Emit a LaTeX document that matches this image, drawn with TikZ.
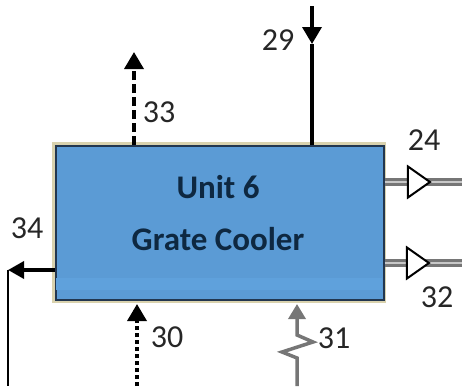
\documentclass[tikz,border=0pt]{standalone}
\usepackage{fontspec}
\setmainfont{Carlito}
\usetikzlibrary{shapes.geometric, arrows.meta, positioning}
\definecolor{coolerblue}{HTML}{5B9BD5}
\definecolor{coolerband}{HTML}{5FA1DC}
\definecolor{coolernavy}{HTML}{0E2841}
\definecolor{cooleredge}{HTML}{22364F}
\definecolor{coolertan}{HTML}{D9D2AE}
\definecolor{streamgray}{HTML}{767676}
\definecolor{streamlight}{HTML}{C8C8C8}

\begin{document}
\begin{tikzpicture}[x=1pt, y=-1pt,
		stream/.style={line width=3.5pt, black},
		gasout/.style={stream, dash pattern=on 9pt off 4pt},
		airin/.style={stream, dash pattern=on 4pt off 3pt},
		product/.style={draw=streamgray, line width=2.5pt, double=streamlight, double distance=2.5pt},
		opentip/.style={isosceles triangle, isosceles triangle stretches, draw=black, fill=white,
			line width=2pt, minimum height=22pt, minimum width=31pt, inner sep=0pt},
		num/.style={font=\fontsize{32}{36}\selectfont, text=black!85, inner sep=0pt},
		headtip/.style={-{Triangle[width=19pt, length=17pt]}}]
	\useasboundingbox (0,0) rectangle (462,386);

	% unit body
	\fill[coolertan] (52,142) rectangle (386,303);
	\node[draw=cooleredge, fill=coolerblue, line width=1.5pt, minimum width=328pt,
		minimum height=154pt, anchor=north west, inner sep=0pt] (cooler) at (55,145) {};
	\fill[coolerband] (56,278) rectangle (382,290);
	\node[font=\fontsize{33}{36}\selectfont\bfseries, text=coolernavy] (unitname) at (218,187) {Unit 6};
	\node[font=\fontsize{33}{36}\selectfont\bfseries, text=coolernavy] (unittype) at (218,239) {Grate Cooler};

	% stream 29 (feed from kiln)
	\coordinate (in29) at (312,6);
	\coordinate (mid29) at (312,44);
	\draw[stream, headtip] (in29) -- (mid29);
	\draw[stream] (mid29) -- (cooler.north -| in29);
	\node[num] (lab29) at (278,40) {29};

	% stream 33 (exhaust)
	\coordinate (out33) at (134,52);
	\draw[gasout, headtip] (cooler.north -| out33) -- (out33);
	\node[num] (lab33) at (159,112) {33};

	% streams 24 and 32
	\coordinate (out24) at (462,182);
	\coordinate (out32) at (462,263);
	\draw[product] (cooler.east |- out24) -- (out24);
	\draw[product] (cooler.east |- out32) -- (out32);
	\node[opentip] (tip24) at (416,182) {};
	\node[opentip] (tip32) at (415,263) {};
	\node[num] (lab24) at (424,140) {24};
	\node[num] (lab32) at (437,297) {32};

	% stream 31 (power)
	\coordinate (in31) at (297,386);
	\coordinate (top31) at (297,304);
	\draw[line width=3.5pt, streamgray, line join=miter, -{Triangle[width=17pt, length=15pt]}]
		(in31) -- (297,358) -- (282,352) -- (313,342) -- (297,335) -- (top31);
	\node[num] (lab31) at (334,338) {31};

	% stream 30 (cooling air)
	\coordinate (in30) at (137,386);
	\coordinate (top30) at (137,304);
	\draw[airin, headtip] (in30) -- (top30);
	\node[num] (lab30) at (167,337) {30};

	% stream 34
	\coordinate (out34) at (8,270);
	\draw[stream, -{Triangle[width=17pt, length=16pt]}] (cooler.west |- out34) -- (out34);
	\draw[line width=1.5pt] (out34) -- (8,386);
	\node[num] (lab34) at (27,228) {34};
\end{tikzpicture}
\end{document}
